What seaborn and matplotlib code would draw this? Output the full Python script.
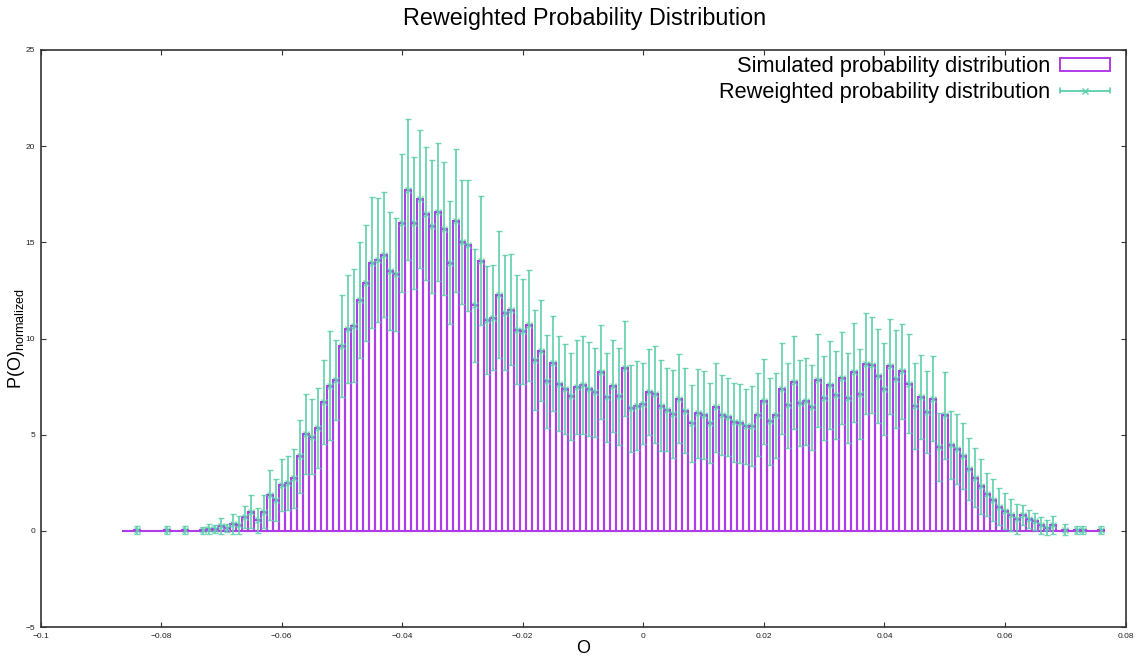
import numpy as np
import pandas as pd
import matplotlib
matplotlib.use("Agg")
import matplotlib.pyplot as plt
import seaborn as sns
from matplotlib.legend_handler import HandlerBase
from matplotlib.lines import Line2D
from matplotlib.patches import Rectangle

# Histogram bins: uniform width, first bin centred at first_center
first_center = -0.086
bin_width = 0.001

# Simulated probability distribution (one value per bin)
sim_prob = [
    0, 0, 0.05, 0, 0, 0, 0, 0.05, 0, 0,
    0.05, 0, 0, 0.03, 0.09, 0.10, 0.26, 0.15, 0.35, 0.30,
    0.73, 1.00, 0.54, 1.00, 1.85, 1.61, 2.38, 2.50, 2.74, 3.87,
    5.04, 4.90, 5.35, 6.68, 7.54, 7.86, 9.59, 10.50, 10.67, 12.00,
    12.89, 13.95, 14.08, 14.36, 13.49, 13.34, 16.00, 17.74, 16.00, 17.26,
    16.48, 15.83, 16.56, 15.70, 13.93, 16.13, 15.00, 14.85, 11.72, 14.05,
    10.98, 11.07, 12.28, 11.33, 11.50, 10.46, 10.37, 10.68, 8.90, 9.37,
    7.77, 8.72, 7.65, 7.37, 6.99, 7.48, 7.58, 7.37, 7.20, 8.24,
    6.94, 7.54, 6.99, 8.46, 6.38, 6.50, 6.61, 7.22, 7.11, 6.50,
    6.30, 6.07, 6.88, 6.25, 5.60, 6.12, 6.04, 5.60, 6.42, 6.04,
    5.91, 5.64, 5.60, 5.43, 5.43, 6.04, 6.73, 5.69, 6.00, 7.39,
    6.52, 7.72, 6.64, 6.73, 6.42, 7.82, 6.90, 7.60, 7.08, 7.94,
    6.90, 8.24, 7.11, 8.70, 8.62, 8.05, 7.37, 8.55, 7.89, 8.29,
    7.65, 6.50, 6.96, 6.18, 6.87, 4.35, 6.00, 4.44, 4.27, 3.90,
    3.23, 2.77, 2.32, 1.89, 1.61, 1.26, 1.04, 0.83, 0.64, 0.83,
    0.61, 0.49, 0.28, 0.17, 0.31, 0, 0.06, 0, 0.05, 0.05,
    0, 0, 0.05,
]

# Uncertainty of the reweighted distribution (nan: bin has no reweighted point)
nan = float("nan")
rew_err = [
    nan, nan, 0.20, nan, nan, nan, nan, 0.20, nan, nan,
    0.20, nan, nan, 0.17, 0.27, 0.20, 0.43, 0.22, 0.52, 0.48,
    0.57, 0.84, 0.67, 0.87, 1.30, 1.10, 1.37, 1.40, 1.53, 1.90,
    2.08, 1.95, 2.08, 2.18, 2.83, 2.08, 2.65, 2.80, 2.93, 3.00,
    3.02, 3.43, 3.21, 3.24, 3.07, 2.93, 3.60, 3.66, 3.44, 3.60,
    3.46, 3.44, 3.58, 3.46, 3.20, 3.73, 3.23, 3.41, 2.95, 3.34,
    2.81, 2.73, 3.29, 2.99, 2.90, 2.82, 2.73, 2.90, 2.60, 2.61,
    2.43, 2.47, 2.46, 2.34, 2.26, 2.42, 2.53, 2.43, 2.30, 2.44,
    2.31, 2.40, 2.51, 2.47, 2.26, 2.31, 2.11, 2.23, 2.52, 2.36,
    2.16, 2.27, 2.32, 2.22, 2.00, 2.31, 2.28, 2.08, 2.30, 2.08,
    2.03, 2.04, 2.05, 1.94, 2.08, 2.16, 2.22, 2.25, 2.20, 2.38,
    2.20, 2.43, 2.22, 2.26, 2.22, 2.41, 2.20, 2.29, 2.29, 2.40,
    2.35, 2.57, 2.34, 2.65, 2.50, 2.43, 2.40, 2.48, 2.53, 2.48,
    2.58, 2.22, 2.20, 2.14, 2.20, 1.77, 2.26, 1.77, 1.82, 1.70,
    1.62, 1.53, 1.43, 1.14, 1.09, 0.96, 0.92, 0.82, 0.78, 0.52,
    0.48, 0.43, 0.46, 0.37, 0.47, nan, 0.30, nan, 0.20, 0.20,
    nan, nan, 0.20,
]

x_ticks = [-0.1, -0.08, -0.06, -0.04, -0.02, 0, 0.02, 0.04, 0.06, 0.08]
x_tick_labels = ["\u22120.1", "\u22120.08", "\u22120.06", "\u22120.04", "\u22120.02",
                 "0", "0.02", "0.04", "0.06", "0.08"]
y_ticks = [-5, 0, 5, 10, 15, 20, 25]
y_tick_labels = ["\u22125", "0", "5", "10", "15", "20", "25"]

PURPLE = "#b03ce8"
GREEN = "#5ccfaa"

sns.set_style("ticks")
plt.rcParams["font.family"] = ["Liberation Sans", "DejaVu Sans"]
plt.rcParams["mathtext.fontset"] = "custom"
plt.rcParams["mathtext.rm"] = "Liberation Sans"
plt.rcParams["mathtext.it"] = "Liberation Sans"
plt.rcParams["text.color"] = "black"
plt.rcParams["axes.labelcolor"] = "black"

n = len(sim_prob)
centers = first_center + bin_width * np.arange(n)
edges = (first_center - bin_width / 2 + bin_width * np.arange(n + 1)).tolist()
hist_df = pd.DataFrame({"O": centers, "P": np.asarray(sim_prob, dtype=float),
                        "err": np.asarray(rew_err, dtype=float)})
rew_df = hist_df.dropna(subset=["err"])

fig = plt.figure(figsize=(11.39, 6.57), dpi=100)
ax = fig.add_axes([40.5 / 1139, 1 - 627 / 657, 1085 / 1139, 577 / 657])

# Simulated histogram as open boxes
sns.histplot(data=hist_df, x="O", weights="P", bins=edges, element="bars",
             fill=False, color=PURPLE, linewidth=1.5, ax=ax)

# Reweighted distribution with error bars
ax.errorbar(rew_df["O"], rew_df["P"], yerr=rew_df["err"], fmt="x",
            color=GREEN, ecolor=GREEN, elinewidth=1.4, capsize=2.2, capthick=1.2,
            markersize=4.5, markeredgewidth=1.0, alpha=0.85, zorder=3)

ax.set_xlim(-0.1, 0.08)
ax.set_ylim(-5, 25)
ax.set_xticks(x_ticks)
ax.set_xticklabels(x_tick_labels)
ax.set_yticks(y_ticks)
ax.set_yticklabels(y_tick_labels)
ax.tick_params(direction="in", length=3.5, width=0.8, labelsize=6,
               top=True, right=True, colors="#333333", labelcolor="#222222", pad=4)
for sp in ax.spines.values():
    sp.set_visible(True)
    sp.set_color("#333333")
    sp.set_linewidth(1.2)

ax.set_xlabel("O", fontsize=13, labelpad=0)
ax.set_ylabel(r"P(O)$_{\mathrm{normalized}}$", fontsize=13, labelpad=-1)
fig.text(585 / 1139, 1 - 19 / 657, "Reweighted Probability Distribution",
         ha="center", va="center", fontsize=16.8, color="black")


class ErrorbarKeyHandler(HandlerBase):
    """Horizontal bar with end caps and a centre cross."""
    def create_artists(self, legend, orig_handle, xdescent, ydescent,
                       width, height, fontsize, trans):
        y = (height - ydescent) / 2
        x0, x1 = -xdescent, width - xdescent
        cap = 0.12 * fontsize
        arts = [
            Line2D([x0, x1], [y, y], color=GREEN, lw=1.3),
            Line2D([x0, x0], [y - cap, y + cap], color=GREEN, lw=1.2),
            Line2D([x1, x1], [y - cap, y + cap], color=GREEN, lw=1.2),
            Line2D([(x0 + x1) / 2], [y], marker="x", color=GREEN,
                   markersize=4.5, markeredgewidth=1.0, linestyle="none"),
        ]
        for a in arts:
            a.set_transform(trans)
        return arts


box_key = Rectangle((0, 0), 1, 1, facecolor="none", edgecolor=PURPLE, linewidth=1.4)
err_key = Line2D([], [], color=GREEN)
ax.legend([box_key, err_key],
          ["Simulated probability distribution", "Reweighted probability distribution"],
          handler_map={Line2D: ErrorbarKeyHandler()},
          loc="upper right", bbox_to_anchor=(0.9857, 0.989), frameon=False,
          markerfirst=False, fontsize=15.7, handlelength=2.3, handleheight=0.5,
          handletextpad=0.45, labelspacing=0.2, borderaxespad=0.0, borderpad=0.0,
          labelcolor="black")

fig.savefig("out.png", dpi=100)
